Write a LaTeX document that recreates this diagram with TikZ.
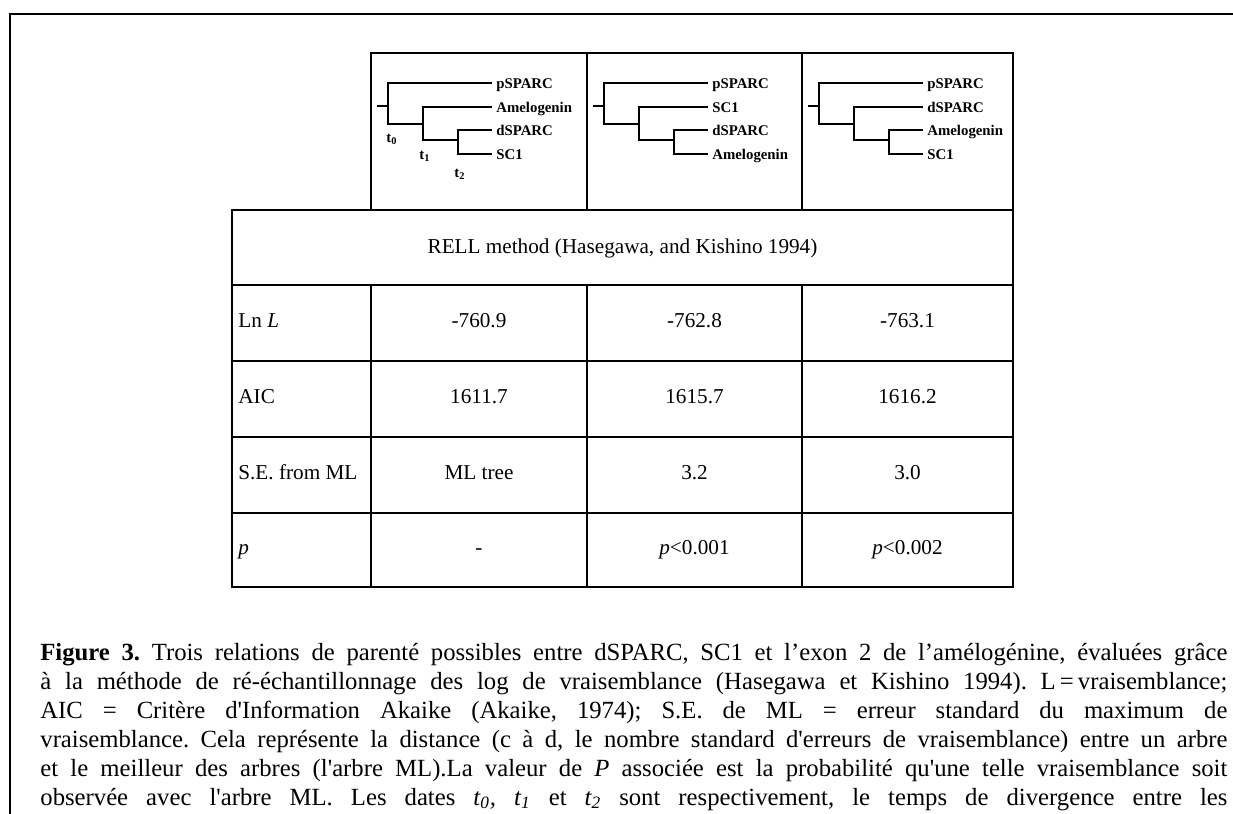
\documentclass[tikz,border=0pt]{standalone}
\usepackage{fontspec}
\setmainfont{Liberation Serif}
\frenchspacing
\newcommand{\sq}{\textquotesingle}
% one rooted tree with four leaves: #1 name prefix, #2 left edge of its cell, #3-#6 leaves top to bottom
\newcommand{\cladetree}[6]{%
  \draw[branch] (#2+6,106) -- (#2+17,106);
  \draw[branch] (#2+121,83) -- (#2+17,83) -- (#2+17,124) -- (#2+52,124);
  \draw[branch] (#2+121,107) -- (#2+52,107) -- (#2+52,140) -- (#2+87,140);
  \draw[branch] (#2+121,130) -- (#2+87,130) -- (#2+87,154) -- (#2+121,154);
  \node[leaf] (#1a) at (#2+125,88) {#3};
  \node[leaf] (#1b) at (#2+125,112) {#4};
  \node[leaf] (#1c) at (#2+125,135) {#5};
  \node[leaf] (#1d) at (#2+125,159) {#6};
}
\tikzset{
  frameline/.style={line width=1.1pt, line cap=rect},
  rule/.style={line width=0.7pt, line cap=rect},
  branch/.style={line width=0.8pt},
  leaf/.style={inner sep=0pt, anchor=base west, font=\fontsize{7.4}{8.5}\selectfont\bfseries},
  tlabel/.style={inner sep=0pt, anchor=base west, font=\fontsize{7.4}{8.5}\selectfont\bfseries},
  cell/.style={inner sep=0pt, anchor=base, font=\fontsize{10.6}{12.5}\selectfont},
  rowlabel/.style={cell, anchor=base west},
  capline/.style={inner sep=0pt, anchor=base west, font=\fontsize{12.35}{14.5}\selectfont},
}
\begin{document}
\begin{tikzpicture}[x=0.5pt,y=-0.5pt]
\useasboundingbox (0,0) rectangle (1233,814);
% outer frame, running off the right and bottom edges
\begin{scope}
  \clip (0,0) rectangle (1233,814);
  \draw[frameline] (10,14) rectangle (1260,860);
\end{scope}

% table rules
\draw[rule] (371,53) -- (1013,53);
\foreach \x in {371,587,802} {
  \draw[rule] (\x,53) -- (\x,210);
  \draw[rule] (\x,285) -- (\x,587);
}
\draw[rule] (1013,53) -- (1013,587);
\draw[rule] (232,210) -- (232,587);
\foreach \y in {210,285,361,437,513,587}
  \draw[rule] (232,\y) -- (1013,\y);

% the three trees
\cladetree{ta}{371}{pSPARC}{Amelogenin}{dSPARC}{SC1}
\cladetree{tb}{587}{pSPARC}{SC1}{dSPARC}{Amelogenin}
\cladetree{tc}{802}{pSPARC}{dSPARC}{Amelogenin}{SC1}
\node[tlabel] (t0) at (386,142) {t\textsubscript{0}};
\node[tlabel] (t1) at (419,159) {t\textsubscript{1}};
\node[tlabel] (t2) at (454,177) {t\textsubscript{2}};

% table contents
\node[cell] (rell) at (622.5,253) {RELL method (Hasegawa, and Kishino 1994)};

\node[rowlabel] (lnl) at (238,327) {Ln \textit{L}};
\node[cell] (lnla) at (479,327) {-760.9};
\node[cell] (lnlb) at (694.5,327) {-762.8};
\node[cell] (lnlc) at (907.5,327) {-763.1};

\node[rowlabel] (aic) at (238,403) {AIC};
\node[cell] (aica) at (479,403) {1611.7};
\node[cell] (aicb) at (694.5,403) {1615.7};
\node[cell] (aicc) at (907.5,403) {1616.2};

\node[rowlabel] (se) at (238,479) {S.E. from ML};
\node[cell] (sea) at (479,479) {ML tree};
\node[cell] (seb) at (694.5,479) {3.2};
\node[cell] (sec) at (907.5,479) {3.0};

\node[rowlabel] (pv) at (238,554) {\textit{p}};
\node[cell] (pva) at (479,554) {-};
\node[cell] (pvb) at (694.5,554) {\textit{p}<0.001};
\node[cell] (pvc) at (907.5,554) {\textit{p}<0.002};

% caption, one justified line per node
\node[capline] (cap1) at (40,660) {\makebox[593.5pt][s]{\textbf{Figure 3.} Trois relations de parenté possibles entre dSPARC, SC1 et l’exon 2 de l’amélogénine, évaluées grâce}};
\node[capline] (cap2) at (40,689) {\makebox[593.5pt][s]{à la méthode de ré-échantillonnage des log de vraisemblance (Hasegawa et Kishino 1994). L\,=\,vraisemblance;}};
\node[capline] (cap3) at (40,718) {\makebox[593.5pt][s]{AIC = Critère d\sq Information Akaike (Akaike, 1974); S.E. de ML = erreur standard du maximum de}};
\node[capline] (cap4) at (40,747) {\makebox[593.5pt][s]{vraisemblance. Cela représente la distance (c à d, le nombre standard d\sq erreurs de vraisemblance) entre un arbre}};
\node[capline] (cap5) at (40,776) {\makebox[593.5pt][s]{et le meilleur des arbres (l\sq arbre ML).La valeur de \textit{P} associée est la probabilité qu\sq une telle vraisemblance soit}};
\node[capline] (cap6) at (40,805) {\makebox[593.5pt][s]{observée avec l\sq arbre ML. Les dates \textit{t\textsubscript{0},} \textit{t\textsubscript{1}} et \textit{t\textsubscript{2}} sont respectivement, le temps de divergence entre les}};
\end{tikzpicture}
\end{document}
